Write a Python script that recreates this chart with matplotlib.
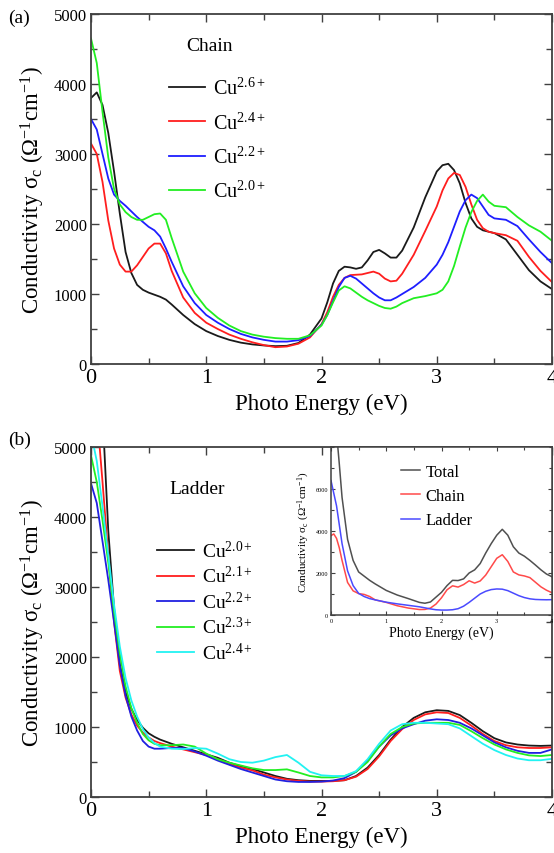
import matplotlib
matplotlib.use("Agg")
import matplotlib.pyplot as plt
from matplotlib.ticker import MultipleLocator

plt.rcParams["font.family"] = ["Liberation Serif", "DejaVu Serif"]
plt.rcParams["mathtext.fontset"] = "custom"
plt.rcParams["mathtext.rm"] = "Liberation Serif"
plt.rcParams["mathtext.it"] = "Liberation Serif:italic"

# --- panel (a): chain ---
x_a = [0, 0.05, 0.1, 0.15, 0.2, 0.25, 0.3, 0.35, 0.4, 0.45, 0.5, 0.55, 0.6, 0.65, 0.7,
       0.8, 0.9, 1.0, 1.1, 1.2, 1.3, 1.4, 1.5, 1.6, 1.7, 1.8, 1.9, 2.0, 2.05, 2.1, 2.15,
       2.2, 2.25, 2.3, 2.35, 2.4, 2.45, 2.5, 2.55, 2.6, 2.65, 2.7, 2.8, 2.9, 3.0, 3.05,
       3.1, 3.15, 3.2, 3.25, 3.3, 3.35, 3.4, 3.45, 3.5, 3.6, 3.7, 3.8, 3.9, 4.0]
chain_26 = [3800, 3880, 3700, 3300, 2750, 2150, 1600, 1300, 1130, 1060, 1020, 990, 960, 920, 850,
            700, 570, 470, 400, 345, 305, 280, 265, 255, 260, 300, 420, 650, 880, 1150, 1330,
            1390, 1380, 1360, 1380, 1480, 1600, 1630, 1580, 1520, 1520, 1620, 1950, 2380, 2750, 2840,
            2860, 2770, 2580, 2300, 2080, 1960, 1910, 1890, 1870, 1780, 1560, 1340, 1180, 1070]
chain_24 = [3150, 3000, 2600, 2050, 1650, 1420, 1320, 1320, 1410, 1530, 1650, 1720, 1720, 1580, 1330,
            950, 730, 590, 500, 420, 360, 310, 270, 240, 250, 290, 380, 570, 740, 960, 1130,
            1230, 1270, 1275, 1280, 1300, 1320, 1290, 1220, 1180, 1190, 1290, 1560, 1900, 2250, 2480,
            2650, 2730, 2700, 2530, 2280, 2060, 1940, 1890, 1870, 1840, 1760, 1530, 1330, 1170]
chain_22 = [3500, 3350, 3000, 2650, 2420, 2330, 2260, 2180, 2100, 2030, 1960, 1910, 1820, 1650, 1460,
            1110, 870, 700, 590, 500, 430, 380, 345, 320, 320, 340, 400, 560, 700, 900, 1100,
            1230, 1260, 1220, 1150, 1080, 1010, 950, 910, 910, 950, 1000, 1100, 1230, 1420, 1560,
            1740, 1960, 2180, 2340, 2420, 2370, 2250, 2130, 2080, 2060, 1970, 1780, 1600, 1440]
chain_20 = [4650, 4300, 3600, 2950, 2500, 2280, 2170, 2100, 2060, 2060, 2100, 2140, 2150, 2060, 1800,
            1320, 1010, 800, 660, 550, 470, 420, 390, 370, 360, 360, 410, 550, 700, 880, 1050,
            1110, 1080, 1020, 960, 910, 870, 830, 800, 790, 820, 870, 940, 970, 1010, 1060,
            1180, 1400, 1680, 1950, 2170, 2330, 2420, 2320, 2260, 2240, 2100, 1980, 1890, 1760]
labels_a = ["Cu$^{2.6+}$", "Cu$^{2.4+}$", "Cu$^{2.2+}$", "Cu$^{2.0+}$"]

# --- panel (b): ladder ---
x_b = [0, 0.05, 0.1, 0.15, 0.2, 0.25, 0.3, 0.35, 0.4, 0.45, 0.5, 0.55, 0.6, 0.7, 0.8, 0.9,
       1.0, 1.1, 1.2, 1.3, 1.4, 1.5, 1.6, 1.7, 1.8, 1.9, 2.0, 2.1, 2.2, 2.3, 2.4, 2.5, 2.6,
       2.7, 2.8, 2.9, 3.0, 3.1, 3.2, 3.3, 3.4, 3.5, 3.6, 3.7, 3.8, 3.9, 4.0]
ladder_20 = [8000, 7000, 5500, 3800, 2700, 1900, 1500, 1260, 1100, 990, 910, 860, 820, 760, 710, 660,
             610, 560, 490, 440, 400, 350, 300, 260, 240, 230, 230, 230, 240, 300, 420, 600, 820,
             1000, 1130, 1210, 1240, 1230, 1170, 1060, 940, 840, 780, 750, 735, 730, 735]
ladder_21 = [6500, 5500, 4500, 3450, 2500, 1800, 1420, 1180, 1020, 920, 850, 800, 770, 720, 680, 640,
             600, 540, 470, 420, 380, 320, 280, 250, 230, 220, 220, 225, 240, 290, 400, 580, 800,
             970, 1100, 1180, 1210, 1200, 1130, 1020, 900, 800, 740, 710, 700, 700, 710]
ladder_22 = [4480, 4200, 3650, 3100, 2500, 1880, 1450, 1150, 950, 800, 720, 690, 690, 700, 700, 650,
             590, 520, 460, 400, 350, 300, 250, 225, 215, 215, 220, 235, 270, 360, 520, 720, 880,
             980, 1040, 1090, 1110, 1100, 1060, 980, 880, 780, 710, 660, 630, 630, 680]
ladder_23 = [4880, 4500, 3950, 3350, 2650, 2050, 1580, 1270, 1060, 900, 810, 760, 740, 740, 750, 720,
             620, 540, 490, 450, 410, 385, 385, 395, 350, 300, 280, 280, 300, 360, 500, 720, 900,
             1000, 1050, 1060, 1060, 1060, 1030, 940, 840, 750, 680, 630, 595, 585, 600]
ladder_24 = [5200, 4800, 4150, 3450, 2750, 2150, 1700, 1380, 1150, 970, 850, 770, 720, 690, 685, 700,
             690, 620, 540, 500, 490, 520, 570, 600, 490, 360, 310, 300, 300, 370, 540, 760, 950,
             1040, 1060, 1060, 1050, 1040, 980, 870, 760, 670, 600, 550, 525, 525, 545]
labels_b = ["Cu$^{2.0+}$", "Cu$^{2.1+}$", "Cu$^{2.2+}$", "Cu$^{2.3+}$", "Cu$^{2.4+}$"]

# --- inset: total / chain / ladder ---
x_i = [0, 0.05, 0.1, 0.15, 0.2, 0.3, 0.4, 0.5, 0.6, 0.7, 0.8, 1.0, 1.2, 1.4, 1.6, 1.7, 1.8,
       1.9, 2.0, 2.1, 2.2, 2.3, 2.4, 2.5, 2.6, 2.7, 2.8, 2.9, 3.0, 3.1, 3.2, 3.3, 3.4, 3.5,
       3.6, 3.7, 3.8, 3.9, 4.0]
total_i = [10200, 9700, 8700, 7200, 5600, 3600, 2600, 2050, 1850, 1650, 1480, 1170, 950, 780, 600, 560, 620,
           850, 1080, 1400, 1650, 1640, 1720, 2000, 2150, 2450, 2950, 3400, 3800, 4080, 3800, 3250, 2950, 2800,
           2600, 2380, 2150, 1950, 1820]
chain_i = [3780, 3860, 3650, 3200, 2600, 1550, 1150, 1020, 980, 880, 720, 600, 440, 330, 260, 265, 330,
           520, 820, 1200, 1390, 1330, 1450, 1630, 1520, 1620, 1900, 2300, 2700, 2870, 2550, 2050, 1910, 1860,
           1780, 1560, 1340, 1180, 1060]
ladder_i = [6400, 5800, 5200, 4300, 3400, 2100, 1400, 1030, 880, 780, 720, 610, 530, 460, 390, 340, 290,
            250, 235, 235, 250, 300, 420, 600, 800, 1000, 1130, 1210, 1240, 1230, 1160, 1040, 920, 830,
            770, 740, 730, 725, 730]
labels_i = ["Total", "Chain", "Ladder"]

ylab = "Conductivity σ$_\\mathrm{c}$ (Ω$^{-1}$cm$^{-1}$)"
frame = "#404040"


def style_axes(ax):
    ax.set_xlim(0, 4)
    ax.set_ylim(0, 5000)
    ax.xaxis.set_major_locator(MultipleLocator(1))
    ax.xaxis.set_minor_locator(MultipleLocator(0.5))
    ax.yaxis.set_major_locator(MultipleLocator(1000))
    ax.yaxis.set_minor_locator(MultipleLocator(500))
    ax.tick_params(which="both", direction="in", top=True, right=True, color=frame, width=1.0)
    ax.tick_params(which="major", length=6)
    ax.tick_params(which="minor", length=4)
    ax.tick_params(axis="x", labelsize=16, pad=3)
    ax.tick_params(axis="y", labelsize=12, pad=3)
    for s in ax.spines.values():
        s.set_color(frame)
        s.set_linewidth(1.3)
    ax.set_xlabel("Photo Energy (eV)", fontsize=16.5, labelpad=4)
    ax.set_ylabel(ylab, fontsize=16.5, labelpad=5)


fig = plt.figure(figsize=(5.54, 8.54), dpi=100)
W, H = 554, 854

# panel (a)
ax1 = fig.add_axes([91 / W, 1 - 365 / H, 461 / W, 350 / H])
cols_a = ["#1a1a1a", "#ff1e1e", "#1e1eff", "#22ee22"]
for yv, c, lab in zip([chain_26, chain_24, chain_22, chain_20], cols_a, labels_a):
    ax1.plot(x_a, yv, color=c, lw=1.3, label=lab)
style_axes(ax1)
ax1.text(1.03, 4543, "Chain", fontsize=14, ha="center", va="center")
ax1.legend(loc="upper left", bbox_to_anchor=(0.13, 0.87), frameon=False, fontsize=14.5,
           handlelength=1.8, handletextpad=0.4, labelspacing=0.66)
fig.text(8 / W, 1 - 18 / H, "(a)", fontsize=14, va="center")

# panel (b)
ax2 = fig.add_axes([91 / W, 1 - 798 / H, 461 / W, 350 / H])
cols_b = ["#1a1a1a", "#ff1e1e", "#2020e0", "#22ee22", "#22f2f2"]
for yv, c, lab in zip([ladder_20, ladder_21, ladder_22, ladder_23, ladder_24], cols_b, labels_b):
    ax2.plot(x_b, yv, color=c, lw=1.3, label=lab)
style_axes(ax2)
ax2.text(0.92, 4400, "Ladder", fontsize=14, ha="center", va="center")
ax2.legend(loc="upper left", bbox_to_anchor=(0.105, 0.785), frameon=False, fontsize=14,
           handlelength=1.9, handletextpad=0.4, labelspacing=0.22)
fig.text(8 / W, 1 - 440 / H, "(b)", fontsize=14, va="center")

# inset
ax3 = fig.add_axes([331 / W, 1 - 616 / H, 221 / W, 168 / H])
cols_i = ["#505050", "#ff4a4a", "#4a4aff"]
for yv, c, lab in zip([total_i, chain_i, ladder_i], cols_i, labels_i):
    ax3.plot(x_i, yv, color=c, lw=1.1, label=lab)
ax3.set_xlim(0, 4)
ax3.set_ylim(0, 8000)
ax3.xaxis.set_major_locator(MultipleLocator(1))
ax3.xaxis.set_minor_locator(MultipleLocator(0.5))
ax3.set_yticks([0, 2000, 4000, 6000])
ax3.yaxis.set_minor_locator(MultipleLocator(1000))
ax3.tick_params(which="both", direction="in", top=True, right=True, color=frame, width=0.8,
                labelsize=4.5, pad=2)
ax3.tick_params(which="major", length=3)
ax3.tick_params(which="minor", length=2)
for s in ax3.spines.values():
    s.set_color(frame)
    s.set_linewidth(1.1)
ax3.set_xlabel("Photo Energy (eV)", fontsize=10, labelpad=2)
ax3.set_ylabel(ylab, fontsize=8, labelpad=3)
ax3.legend(loc="upper left", bbox_to_anchor=(0.25, 0.99), frameon=False, fontsize=12,
           handlelength=1.1, handletextpad=0.35, labelspacing=0.5)

fig.savefig("out.png", dpi=100)
